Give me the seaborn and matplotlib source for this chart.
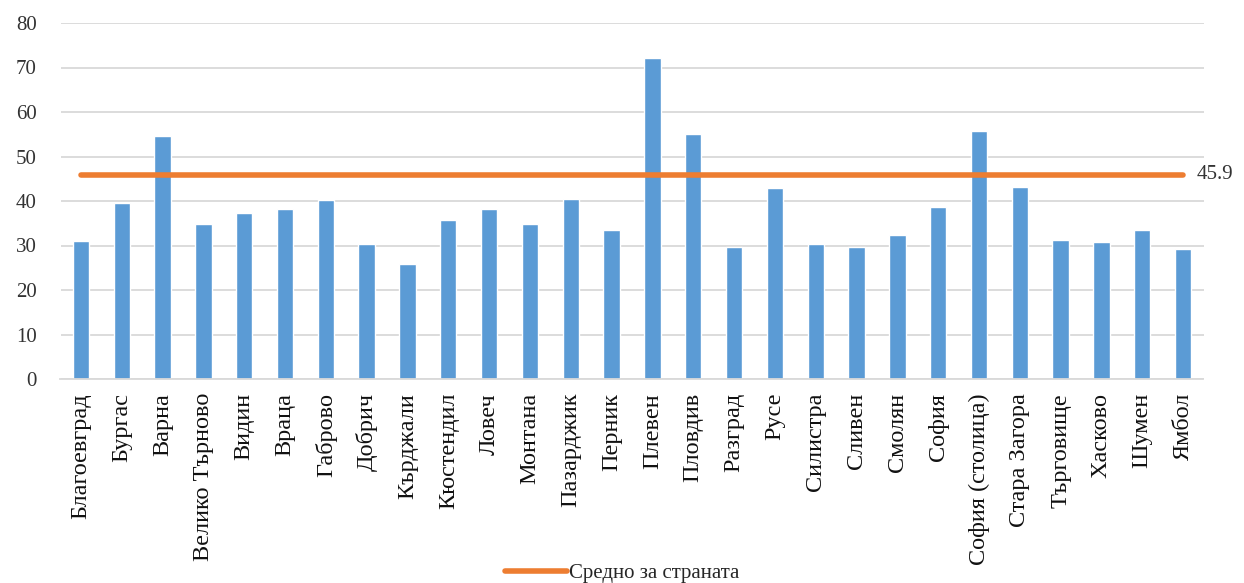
import numpy as np
import pandas as pd
import matplotlib
matplotlib.use("Agg")
import matplotlib.pyplot as plt
import seaborn as sns

# Regions and their values
regions = [
    "Благоевград", "Бургас", "Варна", "Велико Търново", "Видин", "Враца",
    "Габрово", "Добрич", "Кърджали", "Кюстендил", "Ловеч", "Монтана",
    "Пазарджик", "Перник", "Плевен", "Пловдив", "Разград", "Русе",
    "Силистра", "Сливен", "Смолян", "София", "София (столица)",
    "Стара Загора", "Търговище", "Хасково", "Шумен", "Ямбол",
]
values = [
    31.1, 39.5, 54.6, 34.8, 37.2, 38.3,
    40.2, 30.4, 25.9, 35.7, 38.2, 34.8,
    40.4, 33.5, 72.2, 55.0, 29.6, 42.9,
    30.3, 29.6, 32.3, 38.7, 55.8,
    43.1, 31.3, 30.8, 33.5, 29.3,
]
country_avg = 45.9
avg_label = "Средно за страната"
y_ticks = [0, 10, 20, 30, 40, 50, 60, 70, 80]

df = pd.DataFrame({"region": regions, "value": values})
df["avg"] = country_avg

sns.set_style("white")
plt.rcParams["font.family"] = ["Liberation Serif", "DejaVu Serif"]

fig = plt.figure(figsize=(12.44, 5.83), dpi=100)
ax = fig.add_axes([60.5 / 1244, 1 - 379 / 583, 1143 / 1244, 356 / 583])

bar_color = "#5b9bd5"
line_color = "#ed7d31"
text_color = "#333333"

ax.yaxis.grid(True, color="#d9d9d9", linewidth=1.3)
ax.set_axisbelow(True)

sns.barplot(data=df, x="region", y="value", color=bar_color,
            width=0.4, saturation=1, ax=ax, zorder=2)

xpos = np.arange(len(regions))
sns.lineplot(x=xpos, y=df["avg"].to_numpy(), color=line_color,
             linewidth=4, ax=ax, label=avg_label, zorder=3)
ax.text(xpos[-1] + 0.33, country_avg, f"{country_avg:.1f}",
        va="center", ha="left", fontsize=15, color=text_color)

ax.set_xlim(-0.5, len(regions) - 0.5)
ax.set_ylim(0, 80)
ax.set_yticks(y_ticks)
ax.set_xlabel("")
ax.set_ylabel("")
for s in ["top", "right", "left"]:
    ax.spines[s].set_visible(False)
ax.spines["bottom"].set_color("#d9d9d9")
ax.spines["bottom"].set_linewidth(1.3)

ax.tick_params(axis="y", length=0, pad=17, labelsize=15, labelcolor=text_color)
ax.tick_params(axis="x", length=0, pad=10, labelsize=17.5, labelcolor="#111111")
plt.setp(ax.get_xticklabels(), rotation=90, ha="center", va="top")

ax.legend_.remove()
handles, labels = ax.get_legend_handles_labels()
fig.legend(handles, labels, loc="center", bbox_to_anchor=(0.5, 1 - 573 / 583),
           frameon=False, fontsize=15, handlelength=3.0, handletextpad=0.1,
           borderpad=0)

fig.savefig("out.png", dpi=100)
